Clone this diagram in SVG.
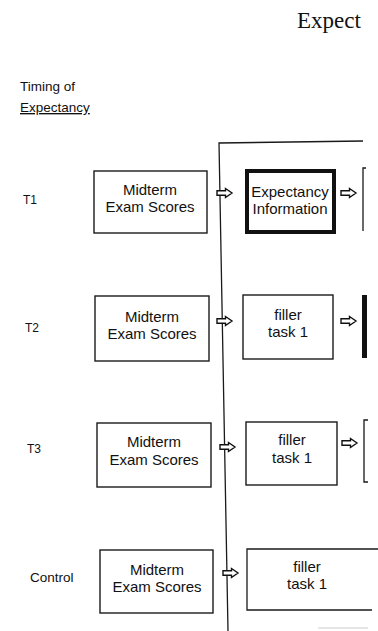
<svg xmlns="http://www.w3.org/2000/svg" width="378" height="631" viewBox="0 0 378 631">
<defs>
<style>
.bg{fill:#fff}
.box{fill:#fff;stroke:#1a1a1a;stroke-width:1.4}
.thick{fill:#fff;stroke:#111;stroke-width:4}
.ln{fill:none;stroke:#1a1a1a;stroke-width:1.3}
.t{font-family:"Liberation Sans",Arial,sans-serif;font-size:15px;fill:#111;text-anchor:middle}
.lab{font-family:"Liberation Sans",Arial,sans-serif;font-size:12px;fill:#111}
.lab13{font-family:"Liberation Sans",Arial,sans-serif;font-size:13.5px;fill:#111}
.arr{fill:#fff;stroke:#111;stroke-width:1.4;stroke-linejoin:miter}
</style>
<path id="a" class="arr" d="M0,-2.2 H8.5 V-4.5 L15,0 L8.5,4.5 V2.2 H0 Z"/>
</defs>
<rect class="bg" width="378" height="631"/>
<text x="297" y="28" font-family="'Liberation Serif','Times New Roman',serif" font-size="23" fill="#111">Expect</text>
<g id="header">
<text class="lab13" x="20" y="91">Timing of</text>
<text class="lab13" x="20" y="112" text-decoration="underline">Expectancy</text>
</g>
<g id="connectors">
<path class="ln" d="M363,141 L219,143 L228,631"/>
<use href="#a" x="217" y="193"/>
<use href="#a" x="341" y="193"/>
<use href="#a" x="217" y="321"/>
<use href="#a" x="341" y="321"/>
<use href="#a" x="220" y="447"/>
<use href="#a" x="342" y="443"/>
<use href="#a" x="223" y="573"/>
</g>
<g id="t1">
<text class="lab" x="23" y="204">T1</text>
<g id="t1-scores"><rect class="box" x="94" y="171" width="113" height="62"/>
<text class="t" x="150" y="195">Midterm</text><text class="t" x="150" y="212">Exam Scores</text></g>
<g id="t1-info"><rect class="thick" x="247" y="171" width="87" height="61"/>
<text class="t" x="290" y="197">Expectancy</text><text class="t" x="290" y="214">Information</text></g>
<path id="t1-next" class="ln" d="M366,168 L363,168 L363,231"/>
</g>
<g id="t2">
<text class="lab" x="25" y="332">T2</text>
<g id="t2-scores"><rect class="box" x="95" y="296" width="114" height="65"/>
<text class="t" x="152" y="322">Midterm</text><text class="t" x="152" y="339">Exam Scores</text></g>
<g id="t2-filler"><rect class="box" x="243" y="295" width="90" height="64"/>
<text class="t" x="288" y="320">filler</text><text class="t" x="288" y="337">task 1</text></g>
<rect id="t2-next" x="362" y="295" width="5" height="63" fill="#111"/>
</g>
<g id="t3">
<text class="lab" x="27" y="453">T3</text>
<g id="t3-scores"><rect class="box" x="97" y="423" width="114" height="64"/>
<text class="t" x="154" y="447">Midterm</text><text class="t" x="154" y="465">Exam Scores</text></g>
<g id="t3-filler"><rect class="box" x="246" y="422" width="91" height="63"/>
<text class="t" x="292" y="445">filler</text><text class="t" x="292" y="463">task 1</text></g>
<path id="t3-next" class="ln" d="M368,420 L364,420 L364,482 L368,482"/>
</g>
<g id="control">
<text class="lab13" x="30" y="582">Control</text>
<g id="c-scores"><rect class="box" x="100" y="550" width="113" height="63"/>
<text class="t" x="157" y="575">Midterm</text><text class="t" x="157" y="592">Exam Scores</text></g>
<g id="c-filler"><path class="ln" d="M378,549 L247,549 L247,610 L372,610"/>
<text class="t" x="307" y="572">filler</text><text class="t" x="307" y="589">task 1</text></g>
<path d="M318,628 L368,628" fill="none" stroke="#ccc" stroke-width="1"/>
</g>
</svg>
